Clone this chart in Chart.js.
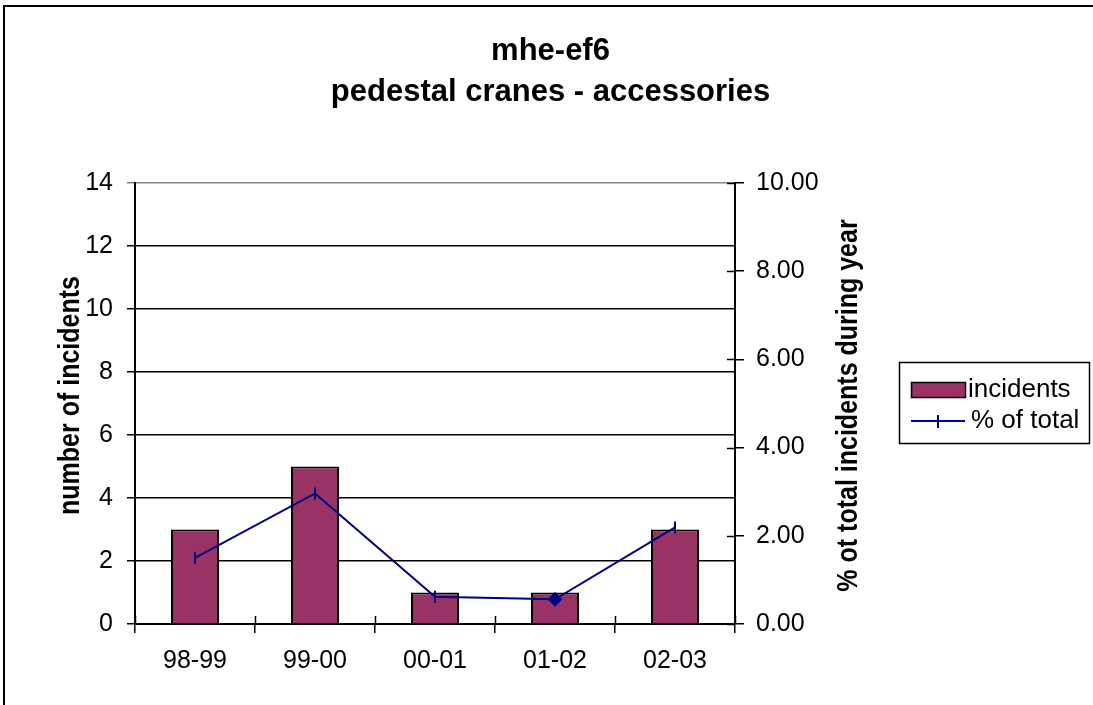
<!DOCTYPE html>
<html>
<head>
<meta charset="utf-8">
<script src="https://cdn.jsdelivr.net/npm/chart.js@4.4.1/dist/chart.umd.min.js"></script>
<style>
  html, body { margin: 0; padding: 0; background: #fff; overflow: hidden; }
  canvas { display: block; }
</style>
</head>
<body>
<canvas id="myChart" width="1093" height="705"></canvas>
<script>
// data
const years = ["98-99", "99-00", "00-01", "01-02", "02-03"];
const incidents = [3, 5, 1, 1, 3];
const pctOfTotal = [1.5, 2.96, 0.62, 0.56, 2.19];
const pointStyles = ["line", "line", "line", "rectRot", "line"];
const chartTitle = ["mhe-ef6", "pedestal cranes - accessories"];
const leftTitle = "number of incidents";
const rightTitle = "% ot total incidents during year";

const FONT = "Arial, 'Liberation Sans', Helvetica, sans-serif";
const BAR_COLOR = "#993366";
const LINE_COLOR = "#000080";

// rotated text reading bottom to top, glyphs a bit taller than wide like the original
function drawVertical(ctx, text, baseX, midY) {
  ctx.save();
  ctx.translate(baseX, midY);
  ctx.rotate(-Math.PI / 2);
  ctx.scale(1, 1.15);
  ctx.fillText(text, 0, 0);
  ctx.restore();
}

// frame, title, rotated axis titles, the boxed legend and the inner tick marks
const decorations = {
  id: "decorations",
  beforeDraw(chart) {
    const ctx = chart.ctx;
    ctx.save();
    ctx.fillStyle = "#fff";
    ctx.fillRect(0, 0, chart.width, chart.height);
    ctx.restore();
  },
  afterDraw(chart) {
    const ctx = chart.ctx;
    const area = chart.chartArea;
    const x = chart.scales.x;
    const y2 = chart.scales.y2;
    ctx.save();

    // outer frame (top and left edge visible)
    ctx.strokeStyle = "#000";
    ctx.lineWidth = 2;
    ctx.beginPath();
    ctx.moveTo(4, chart.height);
    ctx.lineTo(4, 6);
    ctx.lineTo(chart.width, 6);
    ctx.stroke();

    // title
    ctx.fillStyle = "#000";
    ctx.font = "bold 31px " + FONT;
    ctx.textAlign = "center";
    ctx.textBaseline = "alphabetic";
    ctx.fillText(chartTitle[0], chart.width / 2 + 4, 60);
    ctx.fillText(chartTitle[1], chart.width / 2 + 4, 101);

    // tick marks that also cross into the plot
    ctx.lineWidth = 1.5;
    ctx.beginPath();
    for (let i = 0; i <= years.length; i++) {
      const px = Math.round(x.getPixelForValue(i - 0.5)) + 0.5;
      ctx.moveTo(px, area.bottom - 8);
      ctx.lineTo(px, area.bottom);
    }
    y2.ticks.forEach((t) => {
      const py = Math.round(y2.getPixelForValue(t.value)) + 0.5;
      ctx.moveTo(area.right - 8, py);
      ctx.lineTo(area.right, py);
    });
    ctx.stroke();

    // axis titles
    ctx.font = "bold 25px " + FONT;
    drawVertical(ctx, leftTitle, 79, (area.top + area.bottom) / 2 - 8);
    drawVertical(ctx, rightTitle, 857, (area.top + area.bottom) / 2 + 2);

    // legend
    const barDs = chart.data.datasets.find((d) => d.type === "bar");
    const lineDs = chart.data.datasets.find((d) => d.type === "line");
    const lx = 899, ly = 362, lw = 190, lh = 81;
    ctx.lineWidth = 1.5;
    ctx.strokeStyle = "#000";
    ctx.strokeRect(lx + 0.5, ly + 0.5, lw, lh);
    ctx.fillStyle = barDs.backgroundColor;
    ctx.fillRect(911, 382, 54, 15);
    ctx.strokeRect(911.5, 382.5, 54, 15);
    ctx.strokeStyle = lineDs.borderColor;
    ctx.lineWidth = 2;
    ctx.beginPath();
    ctx.moveTo(911, 421);
    ctx.lineTo(965, 421);
    ctx.moveTo(938, 415);
    ctx.lineTo(938, 428);
    ctx.stroke();
    ctx.fillStyle = "#000";
    ctx.font = "26px " + FONT;
    ctx.textAlign = "left";
    ctx.textBaseline = "middle";
    ctx.fillText(barDs.label, 968, 390);
    ctx.fillText(lineDs.label, 971, 421);

    ctx.restore();
  }
};

const ctx = document.getElementById("myChart");

new Chart(ctx, {
  data: {
    labels: years,
    datasets: [
      {
        type: "line",
        label: "% of total",
        data: pctOfTotal,
        yAxisID: "y2",
        borderColor: LINE_COLOR,
        backgroundColor: LINE_COLOR,
        borderWidth: 2,
        pointStyle: pointStyles,
        rotation: 90,
        pointRadius: 6,
        pointBorderWidth: 2,
        pointBackgroundColor: LINE_COLOR,
        pointBorderColor: LINE_COLOR,
        tension: 0,
        order: 0
      },
      {
        type: "bar",
        label: "incidents",
        data: incidents,
        yAxisID: "y",
        backgroundColor: BAR_COLOR,
        borderColor: "#000",
        borderWidth: 2,
        categoryPercentage: 1,
        barPercentage: 0.4,
        order: 1
      }
    ]
  },
  options: {
    responsive: false,
    animation: false,
    devicePixelRatio: 1,
    layout: {
      padding: { left: 0, right: 218, top: 183, bottom: 0 }
    },
    plugins: {
      legend: { display: false },
      tooltip: { enabled: false },
      title: { display: false }
    },
    scales: {
      x: {
        type: "category",
        offset: true,
        grid: {
          offset: true,
          drawOnChartArea: false,
          color: "#000",
          lineWidth: 1.5,
          tickLength: 9
        },
        border: { color: "#000", width: 2 },
        ticks: {
          color: "#000",
          font: { family: FONT, size: 25 },
          padding: 13
        },
        afterFit: (scale) => { scale.height = 81; }
      },
      y: {
        position: "left",
        min: 0,
        max: 14,
        ticks: {
          stepSize: 2,
          color: "#000",
          font: { family: FONT, size: 25 },
          padding: 14
        },
        grid: {
          color: (c) => (c.tick && c.tick.value === 14 ? "#808080" : "#000"),
          lineWidth: 1.5,
          tickLength: 8
        },
        border: { color: "#000", width: 2 },
        afterFit: (scale) => { scale.width = 135; }
      },
      y2: {
        position: "right",
        min: 0,
        max: 10,
        ticks: {
          stepSize: 2,
          color: "#000",
          font: { family: FONT, size: 25 },
          padding: 12,
          callback: (v) => Number(v).toFixed(2)
        },
        grid: {
          drawOnChartArea: false,
          color: "#000",
          lineWidth: 1.5,
          tickLength: 9
        },
        border: { color: "#000", width: 2 },
        afterFit: (scale) => { scale.width = 140; }
      }
    }
  },
  plugins: [decorations]
});
</script>
</body>
</html>
